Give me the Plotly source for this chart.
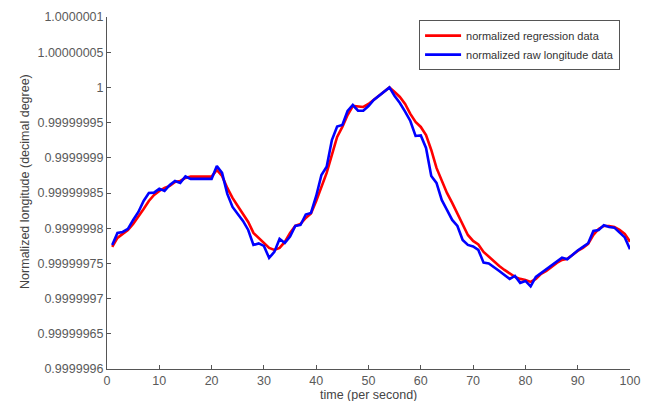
import plotly.graph_objects as go

time_s = list(range(1, 101))

regression = [
    0.9999997734, 0.9999997862, 0.9999997919, 0.9999997975, 0.9999998061,
    0.9999998160, 0.9999998274, 0.9999998387, 0.9999998472, 0.9999998529,
    0.9999998572, 0.9999998600, 0.9999998657, 0.9999998671, 0.9999998714,
    0.9999998732, 0.9999998732, 0.9999998732, 0.9999998732, 0.9999998732,
    0.9999998827, 0.9999998742, 0.9999998572, 0.9999998430, 0.9999998316,
    0.9999998203, 0.9999998089, 0.9999997933, 0.9999997862, 0.9999997805,
    0.9999997720, 0.9999997691, 0.9999997720, 0.9999997805, 0.9999997933,
    0.9999998032, 0.9999998061, 0.9999998146, 0.9999998210, 0.9999998387,
    0.9999998586, 0.9999998785, 0.9999999041, 0.9999999296, 0.9999999438,
    0.9999999608, 0.9999999736, 0.9999999726, 0.9999999722, 0.9999999765,
    0.9999999821, 0.9999999878, 0.9999999935, 1.0000000000, 0.9999999935,
    0.9999999864, 0.9999999765, 0.9999999623, 0.9999999509, 0.9999999438,
    0.9999999324, 0.9999999111, 0.9999998856, 0.9999998671, 0.9999998501,
    0.9999998359, 0.9999998203, 0.9999998046, 0.9999997904, 0.9999997819,
    0.9999997770, 0.9999997663, 0.9999997592, 0.9999997521, 0.9999997464,
    0.9999997407, 0.9999997351, 0.9999997308, 0.9999997280, 0.9999997265,
    0.9999997237, 0.9999997280, 0.9999997351, 0.9999997393, 0.9999997450,
    0.9999997507, 0.9999997549, 0.9999997564, 0.9999997620, 0.9999997677,
    0.9999997720, 0.9999997777, 0.9999997904, 0.9999997990, 0.9999998032,
    0.9999998032, 0.9999998018, 0.9999997975, 0.9999997919, 0.9999997809,
]

raw = [
    0.9999997762, 0.9999997933, 0.9999997947, 0.9999997990, 0.9999998117,
    0.9999998231, 0.9999998387, 0.9999998501, 0.9999998505, 0.9999998562,
    0.9999998529, 0.9999998614, 0.9999998671, 0.9999998643, 0.9999998735,
    0.9999998700, 0.9999998700, 0.9999998700, 0.9999998700, 0.9999998700,
    0.9999998884, 0.9999998785, 0.9999998487, 0.9999998302, 0.9999998203,
    0.9999998103, 0.9999997975, 0.9999997762, 0.9999997784, 0.9999997748,
    0.9999997578, 0.9999997663, 0.9999997848, 0.9999997791, 0.9999997880,
    0.9999998032, 0.9999998046, 0.9999998195, 0.9999998217, 0.9999998458,
    0.9999998756, 0.9999998874, 0.9999999253, 0.9999999445, 0.9999999466,
    0.9999999665, 0.9999999750, 0.9999999669, 0.9999999669, 0.9999999736,
    0.9999999821, 0.9999999878, 0.9999999935, 1.0000000000, 0.9999999878,
    0.9999999779, 0.9999999655, 0.9999999523, 0.9999999310, 0.9999999317,
    0.9999999140, 0.9999998742, 0.9999998643, 0.9999998401, 0.9999998259,
    0.9999998117, 0.9999998032, 0.9999997833, 0.9999997762, 0.9999997741,
    0.9999997691, 0.9999997511, 0.9999997500, 0.9999997450, 0.9999997393,
    0.9999997336, 0.9999997280, 0.9999997322, 0.9999997223, 0.9999997251,
    0.9999997173, 0.9999997308, 0.9999997365, 0.9999997422, 0.9999997478,
    0.9999997535, 0.9999997582, 0.9999997559, 0.9999997627, 0.9999997684,
    0.9999997734, 0.9999997787, 0.9999997961, 0.9999997975, 0.9999998042,
    0.9999998018, 0.9999998008, 0.9999997933, 0.9999997869, 0.9999997701,
]

y_tick_vals = [0.9999996, 0.99999965, 0.9999997, 0.99999975, 0.9999998,
               0.99999985, 0.9999999, 0.99999995, 1.0, 1.00000005, 1.0000001]
y_tick_text = ["0.9999996", "0.99999965", "0.9999997", "0.99999975", "0.9999998",
               "0.99999985", "0.9999999", "0.99999995", "1", "1.00000005", "1.0000001"]
x_tick_vals = [0, 10, 20, 30, 40, 50, 60, 70, 80, 90, 100]

fig = go.Figure()
fig.add_trace(go.Scatter(x=time_s, y=regression, mode="lines",
                         name="normalized regression data",
                         line=dict(color="#ff0000", width=2.6)))
fig.add_trace(go.Scatter(x=time_s, y=raw, mode="lines",
                         name="normalized raw longitude data",
                         line=dict(color="#0000ff", width=2.6)))

FONT = "Liberation Sans, Arial, sans-serif"
axis_font = dict(family=FONT, size=12.5, color="#5a5a5a")

fig.update_layout(
    width=654, height=401,
    margin=dict(l=107, r=24, t=17, b=32, autoexpand=False),
    paper_bgcolor="white", plot_bgcolor="white",
    font=dict(family=FONT, size=11, color="#444444"),
    showlegend=True,
    legend=dict(x=0.981, y=0.991, xanchor="right", yanchor="top",
                bgcolor="white", bordercolor="#555555", borderwidth=1,
                font=dict(family=FONT, size=11, color="#333333"),
                itemwidth=36, tracegroupgap=0),
    xaxis=dict(range=[0, 100], tickvals=x_tick_vals, ticks="inside", ticklen=4,
               tickcolor="#555555", showline=True, linecolor="#555555", linewidth=1,
               showgrid=False, zeroline=False, tickfont=axis_font, automargin=False),
    yaxis=dict(range=[0.9999996, 1.0000001], tickvals=y_tick_vals, ticktext=y_tick_text,
               ticks="inside", ticklen=4, tickcolor="#555555", showline=True,
               linecolor="#555555", linewidth=1, showgrid=False, zeroline=False,
               tickfont=axis_font, automargin=False),
    annotations=[
        dict(text="time (per second)", xref="paper", yref="paper",
             x=0.5, y=-0.074, xanchor="center", yanchor="middle", showarrow=False,
             font=dict(family=FONT, size=12.5, color="#444444")),
        dict(text="Normalized longitude (decimal degree)", xref="paper", yref="paper",
             x=-0.157, y=0.534, xanchor="center", yanchor="middle", showarrow=False,
             textangle=-90, font=dict(family=FONT, size=12.5, color="#444444")),
    ],
)

fig.write_html("out.html",
               config={"displayModeBar": False},
               post_script="document.body.style.margin='0';document.body.style.padding='0';")
